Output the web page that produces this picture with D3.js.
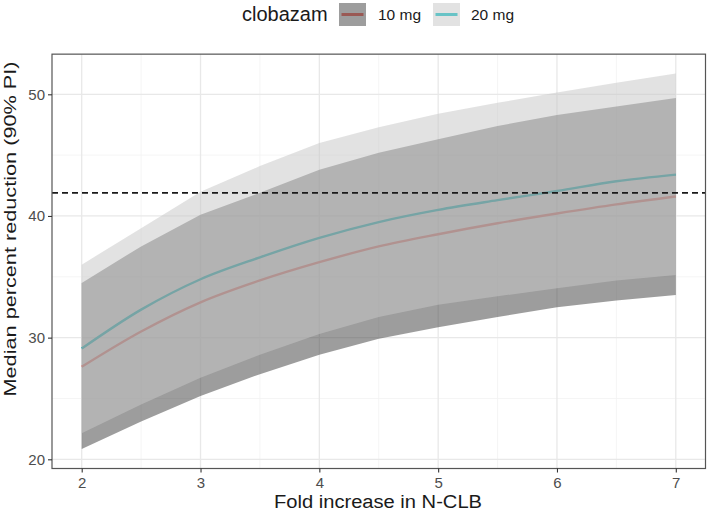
<!DOCTYPE html>
<html>
<head>
<meta charset="utf-8">
<script src="https://cdn.jsdelivr.net/npm/d3@7"></script>
<style>
  html, body { margin: 0; padding: 0; background: #fff; }
  svg { display: block; font-family: "Liberation Sans", Arial, sans-serif; }
</style>
</head>
<body>
<svg id="chart" width="709" height="512"></svg>
<script>
// ---- data ----
const foldIncrease = [2, 2.5, 3, 3.5, 4, 4.5, 5, 5.5, 6, 6.5, 7];
const median10 = [27.6, 30.5, 32.9, 34.7, 36.2, 37.5, 38.5, 39.4, 40.2, 40.95, 41.6];
const lower10  = [20.85, 23.1, 25.2, 27.0, 28.6, 29.9, 30.85, 31.7, 32.5, 33.05, 33.5];
const upper10  = [34.5, 37.5, 40.1, 41.9, 43.8, 45.2, 46.3, 47.4, 48.3, 49.0, 49.7];
const median20 = [29.1, 32.3, 34.8, 36.6, 38.2, 39.5, 40.5, 41.3, 42.05, 42.85, 43.4];
const lower20  = [22.15, 24.5, 26.7, 28.6, 30.3, 31.7, 32.7, 33.4, 34.05, 34.7, 35.15];
const upper20  = [36.0, 39.0, 42.0, 44.1, 46.0, 47.3, 48.4, 49.3, 50.15, 50.95, 51.7];
const doseLabels = ["10 mg", "20 mg"];
const referenceLevel = 41.9;
const xTicks = [2, 3, 4, 5, 6, 7];
const xMinor = [2.5, 3.5, 4.5, 5.5, 6.5];
const yTicks = [20, 30, 40, 50];
const yMinor = [25, 35, 45];
const legendTitle = "clobazam";
const xTitle = "Fold increase in N-CLB";
const yTitle = "Median percent reduction (90% PI)";

// ---- styles ----
const lineColors = ["#F8766D", "#00BFC4"];
const fillColors = ["#3b3b3b", "#c7c7c7"];
const fillAlpha = [0.5, 0.52];

const svg = d3.select("#chart");
const panel = { left: 52, right: 705.5, top: 54.15, bottom: 468.5 };

const x = d3.scaleLinear().domain([1.75, 7.25]).range([panel.left, panel.right]);
const y = d3.scaleLinear().domain([20, 50]).range([459.3, 94.3]);

const series = [
  { name: doseLabels[0], med: median10, lo: lower10, hi: upper10 },
  { name: doseLabels[1], med: median20, lo: lower20, hi: upper20 }
];

// background
svg.append("rect").attr("x", panel.left).attr("y", panel.top)
  .attr("width", panel.right - panel.left).attr("height", panel.bottom - panel.top)
  .attr("fill", "#fff");

const grid = svg.append("g");
// minor grid
grid.selectAll(".vminor").data(xMinor).join("line")
  .attr("x1", d => x(d)).attr("x2", d => x(d)).attr("y1", panel.top).attr("y2", panel.bottom)
  .attr("stroke", "#f2f2f2").attr("stroke-width", 0.8);
grid.selectAll(".hminor").data(yMinor).join("line")
  .attr("y1", d => y(d)).attr("y2", d => y(d)).attr("x1", panel.left).attr("x2", panel.right)
  .attr("stroke", "#f2f2f2").attr("stroke-width", 0.8);
// major grid
grid.selectAll(".vmajor").data(xTicks).join("line")
  .attr("x1", d => x(d)).attr("x2", d => x(d)).attr("y1", panel.top).attr("y2", panel.bottom)
  .attr("stroke", "#e8e8e8").attr("stroke-width", 1.3);
grid.selectAll(".hmajor").data(yTicks).join("line")
  .attr("y1", d => y(d)).attr("y2", d => y(d)).attr("x1", panel.left).attr("x2", panel.right)
  .attr("stroke", "#e8e8e8").attr("stroke-width", 1.3);

// median lines (drawn under the translucent ribbons)
const lineGen = d3.line().curve(d3.curveMonotoneX);
series.forEach((s, i) => {
  const pts = foldIncrease.map((fx, k) => [x(fx), y(s.med[k])]);
  svg.append("path").attr("d", lineGen(pts))
    .attr("fill", "none").attr("stroke", lineColors[i]).attr("stroke-width", 2.4);
});

// ribbons
const areaGen = d3.area().curve(d3.curveLinear);
series.forEach((s, i) => {
  const data = foldIncrease.map((fx, k) => ({ fx, lo: s.lo[k], hi: s.hi[k] }));
  areaGen.x(d => x(d.fx)).y0(d => y(d.lo)).y1(d => y(d.hi));
  svg.append("path").attr("d", areaGen(data))
    .attr("fill", fillColors[i]).attr("fill-opacity", fillAlpha[i]);
});

// reference dashed line
svg.append("line")
  .attr("x1", panel.left).attr("x2", panel.right)
  .attr("y1", y(referenceLevel)).attr("y2", y(referenceLevel))
  .attr("stroke", "#1a1a1a").attr("stroke-width", 1.8).attr("stroke-dasharray", "6,4");

// panel border
svg.append("rect").attr("x", panel.left).attr("y", panel.top)
  .attr("width", panel.right - panel.left).attr("height", panel.bottom - panel.top)
  .attr("fill", "none").attr("stroke", "#555").attr("stroke-width", 1.2);

// axes
const xAxis = d3.axisBottom(x).tickValues(xTicks).tickSize(4).tickPadding(5).tickFormat(d3.format("d"));
const yAxis = d3.axisLeft(y).tickValues(yTicks).tickSize(4).tickPadding(3).tickFormat(d3.format("d"));
const gx = svg.append("g").attr("transform", `translate(0,${panel.bottom})`).call(xAxis);
const gy = svg.append("g").attr("transform", `translate(${panel.left},0)`).call(yAxis);
[gx, gy].forEach(g => {
  g.select(".domain").remove();
  g.selectAll(".tick line").attr("stroke", "#333").attr("stroke-width", 1.1);
  g.selectAll(".tick text").attr("fill", "#4d4d4d").style("font-size", "15px")
    .style("font-family", "'Liberation Sans', Arial, sans-serif");
});

// axis titles
svg.append("text").attr("x", 378).attr("y", 508)
  .attr("text-anchor", "middle").attr("fill", "#1a1a1a").style("font-size", "18px")
  .attr("textLength", 208).attr("lengthAdjust", "spacingAndGlyphs")
  .text(xTitle);
svg.append("text").attr("transform", `translate(15.5,229) rotate(-90)`)
  .attr("text-anchor", "middle").attr("fill", "#1a1a1a").style("font-size", "16.5px")
  .attr("textLength", 335).attr("lengthAdjust", "spacingAndGlyphs")
  .text(yTitle);

// legend
const legend = svg.append("g");
legend.append("text").attr("x", 242).attr("y", 21).attr("fill", "#1a1a1a")
  .style("font-size", "20px").text(legendTitle);
const keyX = [339, 433];
const labelX = [378, 471];
series.forEach((s, i) => {
  const g = legend.append("g");
  g.append("rect").attr("x", keyX[i]).attr("y", 3).attr("width", 27).attr("height", 23).attr("fill", "#fff");
  g.append("line").attr("x1", keyX[i] + 2.5).attr("x2", keyX[i] + 24.5).attr("y1", 14.5).attr("y2", 14.5)
    .attr("stroke", lineColors[i]).attr("stroke-width", 3);
  g.append("rect").attr("x", keyX[i]).attr("y", 3).attr("width", 27).attr("height", 23)
    .attr("fill", fillColors[i]).attr("fill-opacity", fillAlpha[i]);
  g.append("text").attr("x", labelX[i]).attr("y", 20).attr("fill", "#1a1a1a")
    .style("font-size", "15.5px").text(s.name);
});
</script>
</body>
</html>
